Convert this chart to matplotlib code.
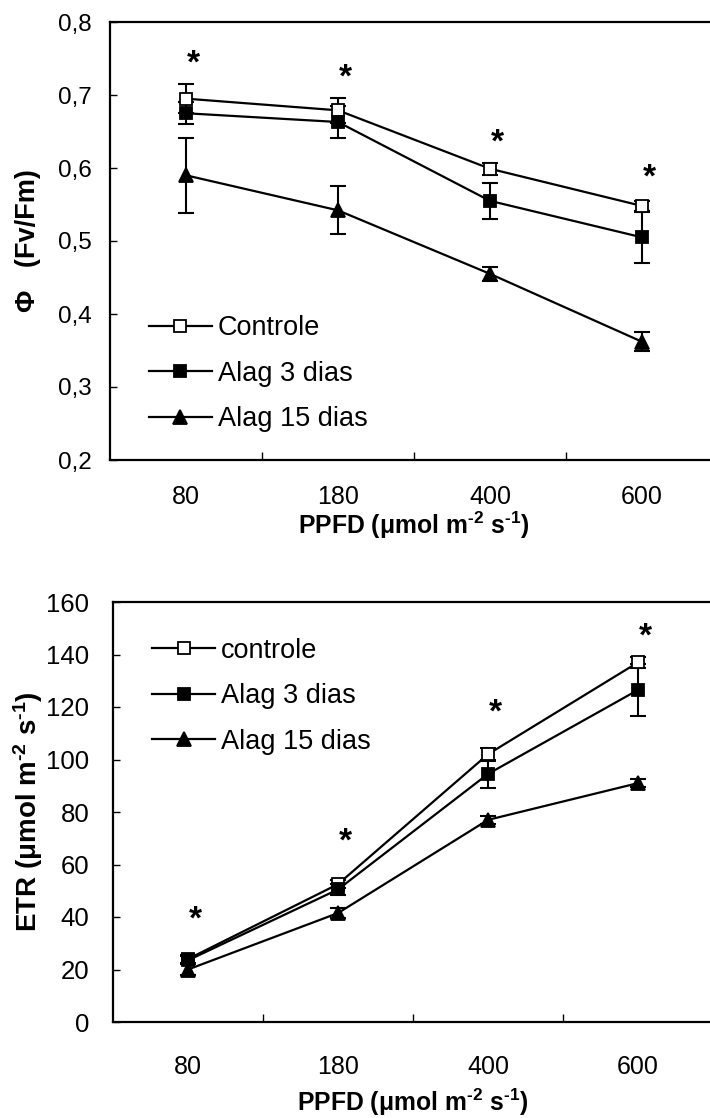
import matplotlib
matplotlib.use("Agg")
import matplotlib.pyplot as plt
import matplotlib.transforms as mtransforms
from matplotlib.ticker import FixedLocator

plt.rcParams['font.family'] = ['Liberation Sans', 'DejaVu Sans']
plt.rcParams['mathtext.fontset'] = 'custom'
plt.rcParams['mathtext.rm'] = 'Liberation Sans:bold'
plt.rcParams['mathtext.bf'] = 'Liberation Sans:bold'
plt.rcParams['mathtext.it'] = 'Liberation Sans:bold'

# ---------------- data ----------------
ppfd = ["80", "180", "400", "600"]

# top panel: quantum yield Fv/Fm
phi_ctrl = [0.695, 0.679, 0.599, 0.548]
phi_ctrl_err = [0.020, 0.017, 0.008, 0.007]
phi_a3 = [0.675, 0.663, 0.555, 0.505]
phi_a3_err = [0.015, 0.022, 0.025, 0.035]
phi_a15 = [0.590, 0.542, 0.455, 0.362]
phi_a15_err = [0.051, 0.033, 0.010, 0.013]
phi_star = [0.751, 0.732, 0.643, 0.595]
phi_labels = ["Controle", "Alag 3 dias", "Alag 15 dias"]
phi_yticks = [0.2, 0.3, 0.4, 0.5, 0.6, 0.7, 0.8]
phi_yticklabels = ["0,2", "0,3", "0,4", "0,5", "0,6", "0,7", "0,8"]

# bottom panel: ETR
etr_ctrl = [24.0, 52.5, 102.0, 137.0]
etr_ctrl_err = [1.5, 1.5, 2.5, 2.0]
etr_a3 = [23.5, 50.5, 94.5, 126.5]
etr_a3_err = [1.5, 2.0, 5.5, 10.0]
etr_a15 = [20.0, 41.5, 77.0, 91.0]
etr_a15_err = [2.0, 2.0, 1.5, 1.5]
etr_star = [41.0, 71.0, 120.0, 149.0]
etr_labels = ["controle", "Alag 3 dias", "Alag 15 dias"]
etr_yticks = [0, 20, 40, 60, 80, 100, 120, 140, 160]

unit_text = r"(μmol m$^{\text{-2}}$ s$^{\text{-1}}$)"

# ---------------- figure ----------------
W, H = 710, 1118
fig = plt.figure(figsize=(W / 100, H / 100), dpi=100)


def px_axes(left, top, right, bottom):
    return fig.add_axes([left / W, 1 - bottom / H, (right - left) / W, (bottom - top) / H])


styles = [
    dict(marker='s', mfc='white', mec='black', ms=8.5),
    dict(marker='s', mfc='black', mec='black', ms=8.5),
    dict(marker='^', mfc='black', mec='black', ms=10.5),
]


def draw_panel(ax, series, errs, labels, stars, ylim, yticks, yticklabels,
               ytick_fs, ytick_pad, xtick_pad, ylabel, ylabel_fs, ylabel_x, xlabel_y,
               leg_anchor):
    x = list(range(len(ppfd)))
    handles = []
    for vals, err, lab, st in zip(series, errs, labels, styles):
        ax.errorbar(x, vals, yerr=err, fmt='none', ecolor='black',
                    elinewidth=1.5, capsize=6, capthick=1.5, zorder=2)
        h, = ax.plot(x, vals, color='black', lw=1.6, mew=1.3, label=lab,
                     zorder=3, **st)
        handles.append(h)
    trans = mtransforms.offset_copy(ax.transData, fig=fig, x=5, y=-10.5, units='points')
    for xi, s in zip(x, stars):
        ax.text(xi, s, '*', transform=trans, ha='center', va='baseline',
                fontsize=24, fontweight='bold')
    ax.set_xlim(-0.5, len(ppfd) - 0.5)
    ax.set_ylim(*ylim)
    ax.set_yticks(yticks)
    ax.set_yticklabels(yticklabels)
    ax.set_xticks(x)
    ax.set_xticklabels(ppfd)
    ax.xaxis.set_minor_locator(FixedLocator([0.5, 1.5, 2.5]))
    ax.tick_params(axis='x', which='major', length=0, labelsize=18, pad=xtick_pad)
    ax.tick_params(axis='x', which='minor', direction='in', length=6, width=1)
    ax.tick_params(axis='y', which='major', direction='in', length=5, width=1,
                   labelsize=ytick_fs, pad=ytick_pad)
    for sp in ax.spines.values():
        sp.set_linewidth(1.6)
    ax.set_ylabel(ylabel, fontsize=ylabel_fs, fontweight='bold')
    ax.yaxis.set_label_coords(ylabel_x, 0.5)
    ax.set_xlabel("PPFD " + unit_text, fontsize=17.8, fontweight='bold')
    ax.xaxis.set_label_coords(0.5, xlabel_y)
    ax.xaxis.label.set_va('center')
    ax.yaxis.label.set_va('center')
    ax.legend(handles=handles, loc='upper left', bbox_to_anchor=leg_anchor,
              frameon=False, fontsize=19.5, handlelength=2.33, handletextpad=0.22,
              labelspacing=0.72, borderpad=0, borderaxespad=0)


ax1 = px_axes(110, 22, 718, 460)
draw_panel(ax1, [phi_ctrl, phi_a3, phi_a15], [phi_ctrl_err, phi_a3_err, phi_a15_err],
           phi_labels, phi_star, (0.2, 0.8), phi_yticks, phi_yticklabels,
           17.5, 13, 18, "Φ   (Fv/Fm)", 19.5, -0.135, -0.148, (0.064, 0.33))

ax2 = px_axes(113, 602, 713, 1022)
draw_panel(ax2, [etr_ctrl, etr_a3, etr_a15], [etr_ctrl_err, etr_a3_err, etr_a15_err],
           etr_labels, etr_star, (0, 160), etr_yticks, [str(v) for v in etr_yticks],
           18.5, 17, 24, "ETR " + unit_text, 20, -0.142, -0.19, (0.065, 0.915))

fig.savefig("out.png", dpi=100)
